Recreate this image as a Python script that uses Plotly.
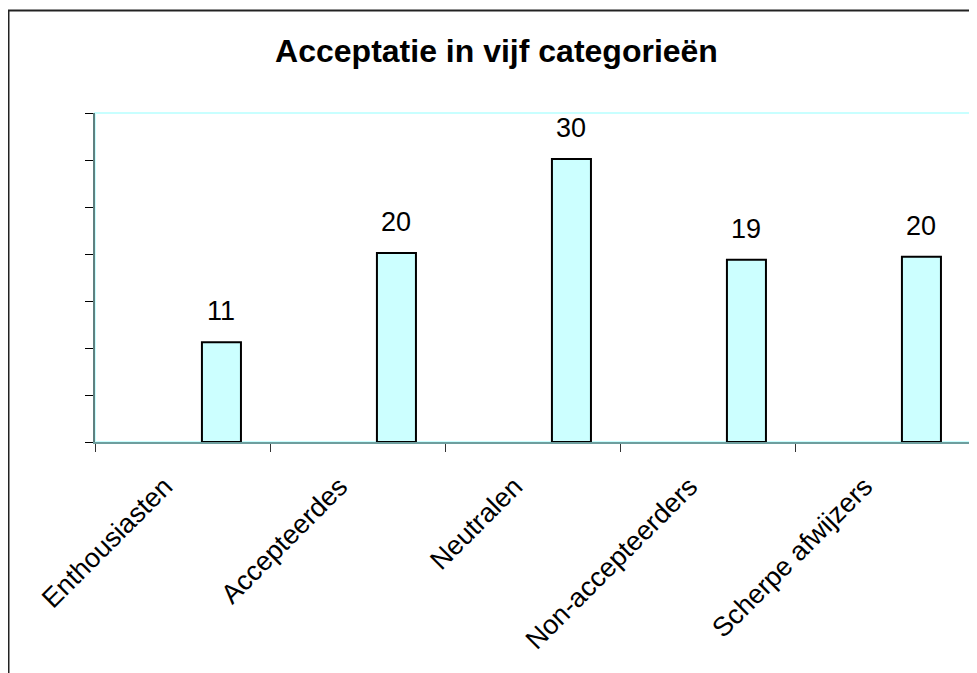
import plotly.graph_objects as go

categories = ["Enthousiasten", "Accepteerdes", "Neutralen", "Non-accepteerders", "Scherpe afwijzers"]
values = [10.6, 20.1, 30.1, 19.4, 19.7]
title_text = "Acceptatie in vijf categorieën"

# page is rendered with an 8px body margin, so figure coords = page coords - 8
OFF = 8
W, H = 977, 673
ml = 95 - OFF
mt = 113 - OFF
plot_w = 970 - 95
plot_h = 442 - 113
mr = W - ml - plot_w
mb = H - mt - plot_h

bar_w = 0.223
bar_off = 0.111

fig = go.Figure()
fig.add_trace(go.Bar(
    x=categories, y=values,
    width=bar_w, offset=bar_off,
    marker=dict(color="#CCFFFF", line=dict(color="#000000", width=2)),
    hoverinfo="skip",
))

# data labels centred on bars
shift_px = (bar_off + bar_w / 2) * plot_w / len(categories)
for c, v in zip(categories, values):
    fig.add_annotation(x=c, y=v, text=f"{v:.0f}", showarrow=False,
                       xshift=shift_px, yshift=14, yanchor="bottom",
                       font=dict(family="Liberation Sans, Arial", size=27, color="#000000"))

# plot area border (top/right cyan)
fig.add_shape(type="rect", xref="paper", yref="paper", x0=0, x1=1, y0=0, y1=1,
              line=dict(color="#C8FFFF", width=2), layer="below")
# outer chart border (top & left visible)
px = lambda p: (p - ml) / plot_w
py = lambda p: (H - mb - p) / plot_h
fig.add_shape(type="line", xref="paper", yref="paper", x0=px(0), x1=px(1000), y0=py(2.5), y1=py(2.5),
              line=dict(color="#222222", width=2))
fig.add_shape(type="line", xref="paper", yref="paper", x0=px(0.5), x1=px(0.5), y0=py(2), y1=py(700),
              line=dict(color="#222222", width=2))

fig.update_layout(
    width=W, height=H,
    margin=dict(l=ml, r=mr, t=mt, b=mb),
    paper_bgcolor="white", plot_bgcolor="white",
    showlegend=False,
    title=dict(text="<b>" + title_text + "</b>", x=0.5, xref="container", xanchor="center",
               y=1 - (51 - OFF) / H, yanchor="middle",
               font=dict(family="Liberation Sans, Arial", size=32, color="#000000")),
    font=dict(family="Liberation Sans, Arial", size=27, color="#000000"),
)
fig.update_xaxes(
    type="category", range=[-0.5, len(categories) - 0.5],
    showline=True, linecolor="#6E9E9E", linewidth=2,
    ticks="outside", tickson="boundaries", ticklen=8, tickcolor="#333333", tickwidth=1,
    tickangle=-45, showgrid=False, zeroline=False,
    ticklabelshift=-18, ticklabelstandoff=16,
    tickfont=dict(family="Liberation Sans, Arial", size=27, color="#000000"),
)
fig.update_yaxes(
    range=[0, 35], dtick=5, tick0=0,
    showline=True, linecolor="#5F8080", linewidth=2,
    ticks="outside", ticklen=8, tickcolor="#000000", tickwidth=1,
    showticklabels=False, showgrid=False, zeroline=False,
)

fig.write_html("out.html")
